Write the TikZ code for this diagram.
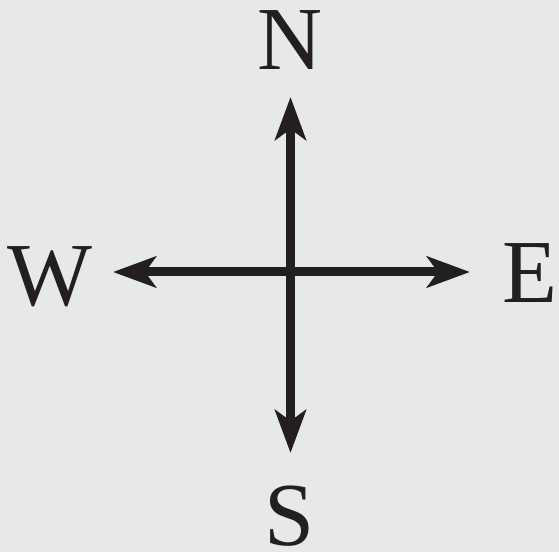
\documentclass[tikz,border=0pt]{standalone}
\usepackage{fontspec}
\setmainfont{Liberation Serif}
\usetikzlibrary{arrows.meta}
\definecolor{bg}{HTML}{E7E8EA}
\definecolor{ink}{HTML}{231F20}
\begin{document}
\begin{tikzpicture}[x=1pt,y=1pt,
  lbl/.style={anchor=base,inner sep=0pt,text=ink,font=\fontsize{90}{90}\selectfont},
  dirarrow/.style={draw=ink,line width=9pt,-{Stealth[length=43pt,width=31pt,inset=11pt]}}]
\fill[bg] (0,0) rectangle (559,552);
\useasboundingbox (0,0) rectangle (559,552);
\coordinate (c) at (290.5,280);
\coordinate (nt) at (290.5,455);
\coordinate (st) at (290.5,99);
\coordinate (wt) at (113,280);
\coordinate (et) at (470,280);
\draw[dirarrow] (c) -- (nt);
\draw[dirarrow] (c) -- (st);
\draw[dirarrow] (c) -- (wt);
\draw[dirarrow] (c) -- (et);
\node[lbl] (n) at (290,482) {N};
\node[lbl] (s) at (290,7) {S};
\node[lbl] (w) at (49.5,247) {W};
\node[lbl] (e) at (530,250) {E};
\end{tikzpicture}
\end{document}
